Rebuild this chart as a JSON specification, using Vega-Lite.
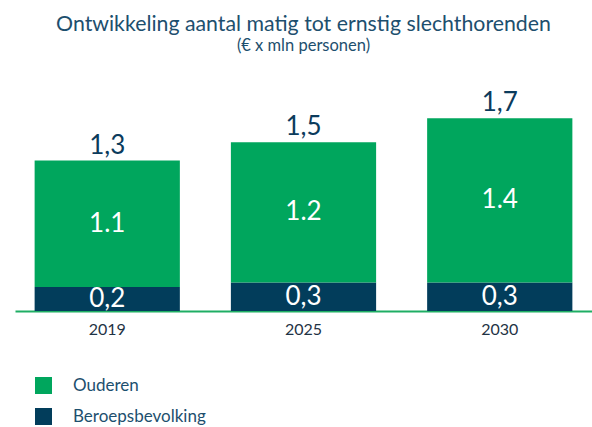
{
  "$schema": "https://vega.github.io/schema/vega-lite/v6.json",
  "width": 577,
  "height": 228,
  "autosize": {"type": "none"},
  "padding": {"left": 15, "top": 83, "right": 0, "bottom": 116},
  "background": "white",
  "title": {
    "text": "Ontwikkeling aantal matig tot ernstig slechthorenden",
    "subtitle": "(€ x mln personen)",
    "anchor": "middle",
    "font": "Lato",
    "fontSize": 21.3,
    "fontWeight": "normal",
    "color": "#1d4f6e",
    "subtitleFont": "Lato",
    "subtitleFontSize": 16.5,
    "subtitleColor": "#1d4f6e",
    "offset": 28,
    "subtitlePadding": 3
  },
  "config": {"view": {"stroke": null}, "font": "Lato"},
  "datasets": {
    "bars": [
      {"year": "2019", "group": "Beroepsbevolking", "value": 0.21, "label": "0,2"},
      {"year": "2019", "group": "Ouderen", "value": 1.11, "label": "1.1"},
      {"year": "2025", "group": "Beroepsbevolking", "value": 0.25, "label": "0,3"},
      {"year": "2025", "group": "Ouderen", "value": 1.23, "label": "1.2"},
      {"year": "2030", "group": "Beroepsbevolking", "value": 0.25, "label": "0,3"},
      {"year": "2030", "group": "Ouderen", "value": 1.44, "label": "1.4"}
    ],
    "totals": [
      {"year": "2019", "total": 1.32, "label": "1,3"},
      {"year": "2025", "total": 1.48, "label": "1,5"},
      {"year": "2030", "total": 1.69, "label": "1,7"}
    ]
  },
  "layer": [
    {
      "data": {"name": "bars"},
      "mark": {"type": "bar"},
      "encoding": {
        "x": {
          "field": "year",
          "type": "ordinal",
          "scale": {"paddingInner": 0.26, "paddingOuter": 0.1},
          "axis": {
            "title": null,
            "labelAngle": 0,
            "ticks": false,
            "domainColor": "#1fae64",
            "domainWidth": 2,
            "labelFontSize": 16,
            "labelColor": "#1f3345",
            "labelPadding": 10,
            "labelFont": "Lato"
          }
        },
        "y": {
          "field": "value",
          "type": "quantitative",
          "stack": "zero",
          "scale": {"domain": [0, 2]},
          "axis": null
        },
        "color": {
          "field": "group",
          "type": "nominal",
          "scale": {"domain": ["Ouderen", "Beroepsbevolking"], "range": ["#00a65d", "#023d5b"]},
          "legend": {
            "orient": "none",
            "legendX": 20,
            "legendY": 294,
            "title": null,
            "symbolType": "square",
            "symbolSize": 289,
            "symbolStrokeWidth": 0,
            "labelFontSize": 17,
            "labelFont": "Lato",
            "labelColor": "#1d4f6e",
            "rowPadding": 13,
            "labelOffset": 21
          }
        },
        "order": {"field": "group", "sort": "ascending"}
      }
    },
    {
      "data": {"name": "bars"},
      "transform": [
        {"stack": "value", "groupby": ["year"], "sort": [{"field": "group", "order": "ascending"}], "as": ["v0", "v1"]},
        {"calculate": "(datum.v0 + datum.v1) / 2", "as": "mid"}
      ],
      "mark": {"type": "text", "color": "white", "fontSize": 26, "baseline": "middle", "font": "Lato"},
      "encoding": {
        "x": {"field": "year", "type": "ordinal"},
        "y": {"field": "mid", "type": "quantitative"},
        "text": {"field": "label"}
      }
    },
    {
      "data": {"name": "totals"},
      "mark": {"type": "text", "color": "#0b3b5c", "fontSize": 26, "baseline": "alphabetic", "dy": -7, "font": "Lato"},
      "encoding": {
        "x": {"field": "year", "type": "ordinal"},
        "y": {"field": "total", "type": "quantitative"},
        "text": {"field": "label"}
      }
    }
  ]
}
